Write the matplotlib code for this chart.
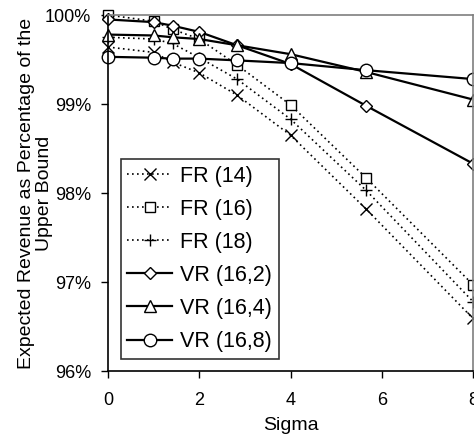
import matplotlib
matplotlib.use("Agg")
import matplotlib.pyplot as plt
from matplotlib.ticker import FuncFormatter

plt.rcParams['font.family'] = ['Liberation Sans', 'DejaVu Sans']

sigma = [0, 1, 1.414, 2, 2.828, 4, 5.657, 8]
fr14 = [99.64, 99.58, 99.47, 99.35, 99.10, 98.65, 97.82, 96.59]
fr16 = [100.0, 99.93, 99.84, 99.73, 99.44, 98.99, 98.17, 96.97]
fr18 = [99.75, 99.73, 99.68, 99.52, 99.28, 98.83, 98.03, 96.78]
vr162 = [99.95, 99.92, 99.88, 99.81, 99.66, 99.45, 98.98, 98.33]
vr164 = [99.78, 99.77, 99.75, 99.73, 99.66, 99.56, 99.36, 99.05]
vr168 = [99.53, 99.52, 99.51, 99.51, 99.49, 99.46, 99.38, 99.28]

labels = ['FR (14)', 'FR (16)', 'FR (18)', 'VR (16,2)', 'VR (16,4)', 'VR (16,8)']
series = [fr14, fr16, fr18, vr162, vr164, vr168]
markers = ['x', 's', '+', 'D', '^', 'o']
msizes = [8, 7.5, 8, 6, 8, 9]

fig = plt.figure(figsize=(4.74, 4.36), dpi=100)
ax = fig.add_axes([108/474, 1-371/436, 365/474, 356/436])

for i, (y, lab, m, ms) in enumerate(zip(series, labels, markers, msizes)):
    if i < 3:
        ax.plot(sigma, y, color='black', linestyle=(0, (1, 2)), linewidth=1.2,
                marker=m, markersize=ms, markerfacecolor='white',
                markeredgecolor='black', markeredgewidth=1.0, label=lab,
                clip_on=False)
    else:
        ax.plot(sigma, y, color='black', linestyle='-', linewidth=1.6,
                marker=m, markersize=ms, markerfacecolor='white',
                markeredgecolor='black', markeredgewidth=1.0, label=lab,
                clip_on=False)

ax.set_xlim(0, 8)
ax.set_ylim(96, 100)
ax.set_xticks([0, 2, 4, 6, 8])
ax.set_yticks([96, 97, 98, 99, 100])
ax.yaxis.set_major_formatter(FuncFormatter(lambda v, p: f"{v:.0f}%"))
ax.tick_params(axis='both', direction='out', length=5, width=1, labelsize=13,
               color='black')
ax.tick_params(axis='y', pad=7)
ax.tick_params(axis='x', pad=10)

for s in ['left', 'bottom']:
    ax.spines[s].set_color('black')
    ax.spines[s].set_linewidth(1.2)
for s in ['top', 'right']:
    ax.spines[s].set_color('#7f7f7f')
    ax.spines[s].set_linewidth(1.2)

ax.set_xlabel('Sigma', fontsize=14)
ax.xaxis.set_label_coords(0.5, -0.13)
ax.set_ylabel('Expected Revenue as Percentage of the\nUpper Bound', fontsize=14,
              linespacing=1.05)
ax.yaxis.set_label_coords(-0.152, 0.5)

leg = ax.legend(loc='lower left', bbox_to_anchor=(0.035, 0.035),
                borderaxespad=0, fontsize=15.5, frameon=True, fancybox=False,
                edgecolor='black', handlelength=2.1, handletextpad=0.36,
                labelspacing=0.56, borderpad=0.3)
leg.get_frame().set_linewidth(1.2)

fig.savefig('out.png', dpi=100)
